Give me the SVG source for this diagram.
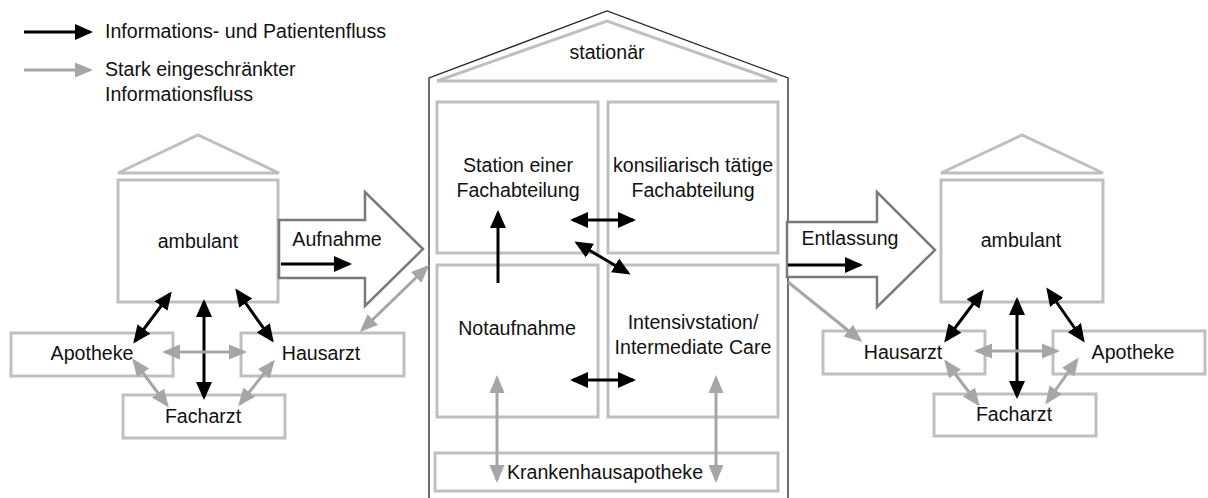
<svg xmlns="http://www.w3.org/2000/svg" width="1208" height="498" viewBox="0 0 1208 498">
<style>
text{font-family:"Liberation Sans",Arial,sans-serif;font-size:19.6px;fill:#111;text-anchor:middle;dominant-baseline:central}
.lg{text-anchor:start}
.box{fill:#fff;stroke:#bfbfbf;stroke-width:3}
.roof{fill:none;stroke:#bfbfbf;stroke-width:3}
.big{fill:#fff;stroke:#7a7a7a;stroke-width:2.5;stroke-linejoin:miter}
.bk{stroke:#000;stroke-width:3;fill:none}
.gr{stroke:#a6a6a6;stroke-width:3;fill:none}
.bkd{marker-start:url(#mb);marker-end:url(#mb)}
.bke{marker-end:url(#mb)}
.grd{marker-start:url(#mg);marker-end:url(#mg)}
.gre{marker-end:url(#mg)}
</style>
<defs>
<marker id="mb" viewBox="0 0 18 18" markerWidth="18" markerHeight="18" refX="15" refY="9" orient="auto-start-reverse" markerUnits="userSpaceOnUse"><path d="M0,1 L18,9 L0,17 Z" fill="#000"/></marker>
<marker id="mg" viewBox="0 0 18 18" markerWidth="18" markerHeight="18" refX="15" refY="9" orient="auto-start-reverse" markerUnits="userSpaceOnUse"><path d="M0,1.5 L18,9 L0,16.5 Z" fill="#a6a6a6"/></marker>
</defs>
<rect width="1208" height="498" fill="#fff"/>

<g id="legend">
<line class="bk bke" x1="24" y1="32" x2="90" y2="32"/>
<text class="lg" x="105" y="31">Informations- und Patientenfluss</text>
<line class="gr gre" x1="24" y1="70" x2="90" y2="70"/>
<text class="lg" x="105" y="69">Stark eingeschränkter</text>
<text class="lg" x="105" y="94">Informationsfluss</text>
</g>

<g id="stationaer">
<path d="M429,500 L429,78 L607,11 L788,78 L788,500" fill="#fff" stroke="#222" stroke-width="1.3"/>
<path class="roof" d="M437,81 L607,21 L777,81 Z"/>
<text x="607" y="52">stationär</text>
</g>
<g id="station">
<rect class="box" x="437" y="102" width="161" height="151"/>
<text x="518" y="165">Station einer</text>
<text x="518" y="190">Fachabteilung</text>
</g>
<g id="konsiliarisch">
<rect class="box" x="608" y="102" width="170" height="151"/>
<text x="693" y="165">konsiliarisch tätige</text>
<text x="693" y="190">Fachabteilung</text>
</g>
<g id="notaufnahme">
<rect class="box" x="437" y="265" width="161" height="152"/>
<text x="517" y="328">Notaufnahme</text>
</g>
<g id="intensiv">
<rect class="box" x="608" y="265" width="170" height="152"/>
<text x="693" y="322">Intensivstation/</text>
<text x="693" y="347">Intermediate Care</text>
</g>
<g id="krankenhausapotheke">
<rect class="box" x="435" y="453" width="343" height="38"/>
<text x="605" y="472">Krankenhausapotheke</text>
</g>

<g id="ambulant-links">
<path class="roof" d="M118,173 L198,135 L279,173 Z"/>
<rect class="box" x="118" y="180" width="160" height="122"/>
<text x="198" y="241">ambulant</text>
</g>
<g id="apotheke-links">
<rect class="box" x="11" y="333" width="162" height="43"/>
<text x="92" y="353">Apotheke</text>
</g>
<g id="hausarzt-links">
<rect class="box" x="241" y="333" width="163" height="43"/>
<text x="321" y="353">Hausarzt</text>
</g>
<g id="facharzt-links">
<rect class="box" x="123" y="395" width="162" height="43"/>
<text x="203" y="416">Facharzt</text>
</g>
<g id="aufnahme">
<path class="big" d="M279,220 L365,220 L365,192 L423,249 L365,306 L365,278 L279,278 Z"/>
<text x="337" y="239">Aufnahme</text>
</g>

<g id="ambulant-rechts">
<path class="roof" d="M941,173 L1022,135 L1103,173 Z"/>
<rect class="box" x="941" y="180" width="162" height="122"/>
<text x="1021" y="240">ambulant</text>
</g>
<g id="hausarzt-rechts">
<rect class="box" x="823" y="331" width="162" height="43"/>
<text x="903" y="352">Hausarzt</text>
</g>
<g id="apotheke-rechts">
<rect class="box" x="1053" y="331" width="152" height="43"/>
<text x="1133" y="352">Apotheke</text>
</g>
<g id="facharzt-rechts">
<rect class="box" x="934" y="394" width="162" height="42"/>
<text x="1014" y="414">Facharzt</text>
</g>
<g id="entlassung">
<path class="big" d="M787,222 L877,222 L877,192 L935,250 L877,307 L877,277 L787,277 Z"/>
<text x="850" y="238">Entlassung</text>
</g>

<g id="connectors">
<line class="bk bke" x1="281" y1="264" x2="349" y2="264"/>
<line class="bk bke" x1="788" y1="265" x2="860" y2="265"/>
<line class="bk bkd" x1="170" y1="294" x2="135" y2="341"/>
<line class="bk bkd" x1="204" y1="302" x2="204" y2="397"/>
<line class="bk bkd" x1="237" y1="291" x2="272" y2="340"/>
<line class="gr grd" x1="165" y1="352" x2="244" y2="352"/>
<line class="gr grd" x1="134" y1="361" x2="167" y2="405"/>
<line class="gr grd" x1="273" y1="362" x2="240" y2="404"/>
<line class="gr grd" x1="362" y1="330" x2="427" y2="267"/>
<line class="bk bkd" x1="573" y1="220" x2="633" y2="220"/>
<line class="bk bke" x1="498" y1="283" x2="498" y2="213"/>
<line class="bk bkd" x1="577" y1="243" x2="628" y2="273"/>
<line class="bk bkd" x1="573" y1="380" x2="633" y2="380"/>
<line class="gr grd" x1="497" y1="378" x2="497" y2="480"/>
<line class="gr grd" x1="716" y1="378" x2="716" y2="480"/>
<line class="gr gre" x1="788" y1="282" x2="860" y2="340"/>
<line class="bk bkd" x1="982" y1="292" x2="946" y2="340"/>
<line class="bk bkd" x1="1017" y1="300" x2="1017" y2="396"/>
<line class="bk bkd" x1="1048" y1="290" x2="1083" y2="340"/>
<line class="gr grd" x1="977" y1="351" x2="1057" y2="351"/>
<line class="gr grd" x1="946" y1="362" x2="978" y2="404"/>
<line class="gr grd" x1="1077" y1="360" x2="1047" y2="402"/>
</g>
</svg>
